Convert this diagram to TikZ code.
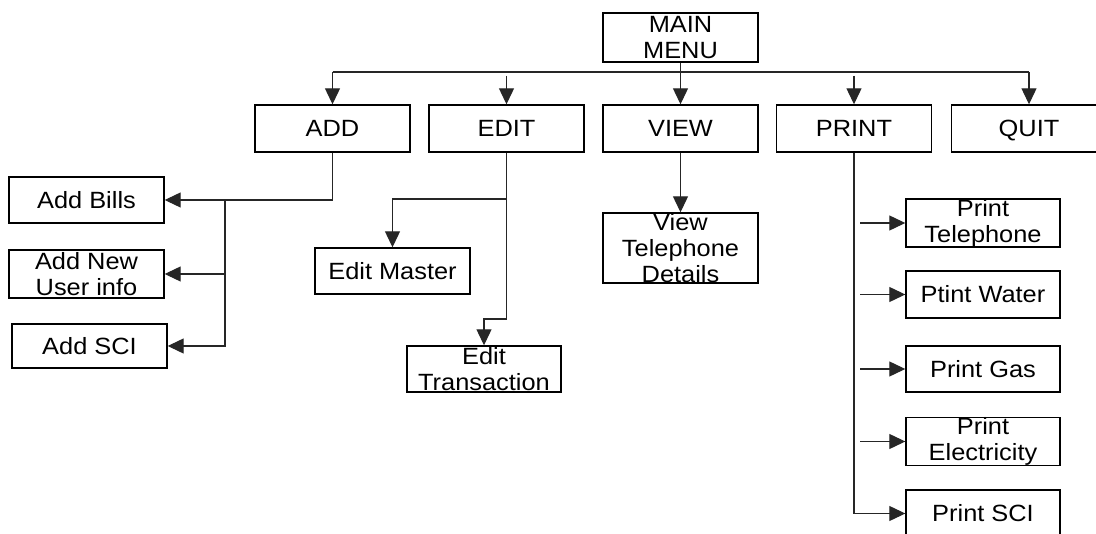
\documentclass[tikz,border=0pt]{standalone}
\usepackage{fontspec}
\usetikzlibrary{arrows.meta}
\newfontfamily\boxfont{Liberation Sans}[FakeStretch=1.08]

\tikzset{
  menubox/.style={draw=black, line width=1.4pt, fill=white, inner sep=0pt,
    minimum width=155pt, minimum height=47pt, align=center,
    font=\boxfont\fontsize{23.5}{26}\selectfont},
  link/.style={draw=black!85, line width=1.2pt},
  arr/.style={link, -{Triangle[width=15pt,length=16pt]}},
}

\begin{document}
\begin{tikzpicture}[x=1pt, y=-1pt]
  \useasboundingbox (0,0) rectangle (1096,534);
  \clip (0,0) rectangle (1096,534);
  \fill[white] (0,0) rectangle (1096,534);

  % top level
  \node[menubox, minimum height=49pt] (main) at (680.5,37.5) {MAIN\\MENU};
  \node[menubox] (add)   at (332.5,128.5) {ADD};
  \node[menubox] (edit)  at (506.5,128.5) {EDIT};
  \node[menubox] (view)  at (680.5,128.5) {VIEW};
  \node[menubox] (print) at (854,128.5)   {PRINT};
  \node[menubox] (quit)  at (1029,128.5)  {\raisebox{0pt}[\height][0pt]{QUIT}};

  % ADD submenu
  \node[menubox, minimum height=46pt] (addbills) at (86.5,200)  {Add Bills};
  \node[menubox, minimum height=48pt] (addnew)   at (86.5,274)  {Add New\\User info};
  \node[menubox, minimum height=44pt] (addsci)   at (89.5,346)  {Add SCI};

  % EDIT submenu
  \node[menubox, minimum height=46pt] (editmaster) at (392.5,271) {Edit Master};
  \node[menubox, minimum width=154pt, minimum height=46pt] (edittrans) at (484,369) {Edit\\Transaction};

  % VIEW submenu
  \node[menubox, minimum height=70pt] (viewtel) at (680.5,248) {View\\Telephone\\Details};

  % PRINT submenu
  \node[menubox, minimum width=154pt, minimum height=46pt] (ptel)   at (983,223)   {Print\\Telephone};
  \node[menubox, minimum width=154pt, minimum height=47pt] (pwater) at (983,294.5) {Ptint Water};
  \node[menubox, minimum width=154pt, minimum height=46pt] (pgas)   at (983,369)   {Print Gas};
  \node[menubox, minimum width=154pt, minimum height=45pt] (pelec)  at (983,441.5) {Print\\Electricity};
  \node[menubox, minimum width=154pt, minimum height=47pt] (psci)   at (983,513.5) {Print SCI};

  % main menu bus
  \coordinate (busL) at (332.5,72);
  \coordinate (busR) at (1029,72);
  \coordinate (editT) at (506.5,76);
  \coordinate (printT) at (854,76);
  \draw[link] (busL) -- (busR);
  \draw[arr] (busL) -- (add.north);
  \draw[arr] (busR) -- (quit.north);
  \draw[arr] (main.south) -- (view.north);
  \draw[arr] (editT) -- (edit.north);
  \draw[arr] (printT) -- (print.north);

  % ADD branches
  \coordinate (addJ) at (225,200);
  \draw[arr] (add.south) |- (addbills.east);
  \draw[arr] (addJ) |- (addnew.east);
  \draw[arr] (addJ) |- (addsci.east);

  % EDIT branches
  \coordinate (editJ) at (506.5,199);
  \coordinate (editK) at (506.5,319);
  \draw[arr] (editJ) -| (editmaster.north);
  \draw[arr] (edit.south) -- (editK) -| (edittrans.north);

  % VIEW branch
  \draw[arr] (view.south) -- (viewtel.north);

  % PRINT branches
  \draw[arr] (print.south) |- (psci.west);
  \foreach \n in {ptel,pwater,pgas,pelec}
    \draw[arr] ([xshift=-45pt]\n.west) -- (\n.west);
\end{tikzpicture}
\end{document}
